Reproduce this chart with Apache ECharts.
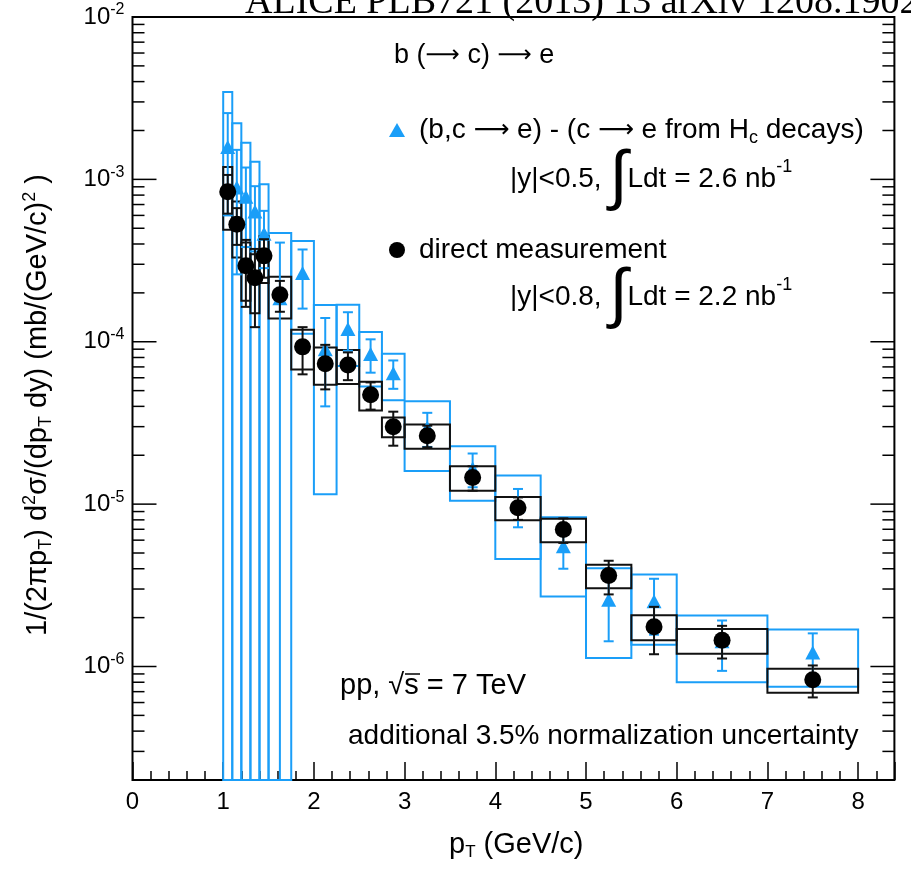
<!DOCTYPE html>
<html><head><meta charset="utf-8">
<script src="https://cdn.jsdelivr.net/npm/echarts@6/dist/echarts.min.js"></script>
<style>html,body{margin:0;padding:0;background:#fff}#c{width:911px;height:870px}</style>
</head><body><div id="c"></div>
<script>
// ---- data ----
const binLow   = [1.0, 1.1, 1.2, 1.3, 1.4, 1.5, 1.75, 2.0, 2.25, 2.5, 2.75, 3.0, 3.5, 4.0, 4.5, 5.0, 5.5, 6.0, 7.0];
const binHigh  = [1.1, 1.2, 1.3, 1.4, 1.5, 1.75, 2.0, 2.25, 2.5, 2.75, 3.0, 3.5, 4.0, 4.5, 5.0, 5.5, 6.0, 7.0, 8.0];
const ptCenter = [1.05, 1.15, 1.25, 1.35, 1.45, 1.625, 1.875, 2.125, 2.375, 2.625, 2.875, 3.25, 3.75, 4.25, 4.75, 5.25, 5.75, 6.5, 7.5];

// direct measurement (black circles)
const directVal  = [8.4e-4, 5.3e-4, 2.94e-4, 2.48e-4, 3.38e-4, 1.95e-4, 9.3e-5, 7.33e-5, 7.2e-5, 4.72e-5, 3.0e-5, 2.64e-5, 1.46e-5, 9.5e-6, 6.97e-6, 3.63e-6, 1.76e-6, 1.45e-6, 8.3e-7];
const directStat = [2.25e-4, 1.35e-4, 1.3e-4, 1.25e-4, 0.9e-4, 0.42e-4, 3.0e-5, 2.24e-5, 1.4e-5, 0.9e-5, 0.71e-5, 0.4e-5, 0.25e-5, 1.5e-6, 1.2e-6, 0.85e-6, 0.57e-6, 0.33e-6, 1.85e-7];
const directSyst = [3.5e-4, 2.0e-4, 1.15e-4, 0.98e-4, 1.08e-4, 0.56e-4, 2.55e-5, 1.9e-5, 1.7e-5, 0.95e-5, 0.42e-5, 0.45e-5, 0.25e-5, 1.55e-6, 1.15e-6, 0.6e-6, 0.31e-6, 0.25e-6, 1.4e-7];

// (b,c -> e) - (c -> e from Hc decays) (blue triangles)
const subVal  = [1.58e-3, 8.9e-4, 7.83e-4, 6.34e-4, 4.62e-4, 1.85e-4, 2.65e-4, 9.0e-5, 1.2e-4, 8.4e-5, 6.4e-5, 2.95e-5, 1.66e-5, 9.8e-6, 5.5e-6, 2.58e-6, 2.52e-6, 1.43e-6, 1.22e-6];
const subStat = [9.8e-4, 6.3e-4, 4.0e-4, 2.74e-4, 1.78e-4, 2.23e-4, 1.05e-4, 5.0e-5, 3.2e-5, 1.95e-5, 1.27e-5, 0.7e-5, 0.39e-5, 2.6e-6, 1.5e-6, 1.15e-6, 0.95e-6, 4.9e-7, 3.8e-7];
const subSyst = [1.87e-3, 1.33e-3, 9.0e-4, 6.5e-4, 4.71e-4, 2.82e-4, 1.53e-4, 7.85e-5, 4.9e-5, 3.1e-5, 2.03e-5, 1.35e-5, 6.1e-6, 5.2e-6, 2.8e-6, 1.45e-6, 1.16e-6, 6.3e-7, 4.7e-7];

const xTickLabels = ['0', '1', '2', '3', '4', '5', '6', '7', '8'];
const yDecadeExp  = [-7, -6, -5, -4, -3, -2];

const nameSub = '(b,c → e) - (c → e from Hc decays)';
const nameDirect = 'direct measurement';

const Y_MIN = 2e-7, Y_MAX = 1e-2, X_MIN = 0, X_MAX = 8.4;
const BLUE = '#1a9ef8', BLACK = '#111';
const FONT = 'Liberation Sans';
const ARROW_FONT = 'DejaVu Sans';
const ARROW = '⟶';

// ---- build ----
const boxRows = (v, e) => v.map((val, i) => [binLow[i], binHigh[i], val, e[i]]);
const errRows = (v, e) => v.map((val, i) => [ptCenter[i], val, e[i]]);
const ptRows  = (v) => v.map((val, i) => [ptCenter[i], val]);

const yTicks = [];
yDecadeExp.forEach(k => {
  for (let m = 1; m <= 9; m++) {
    const v = m * Math.pow(10, k);
    if (v >= Y_MIN * 0.999 && v <= Y_MAX * 1.001) yTicks.push([X_MIN, v, m === 1 ? 1 : 0]);
  }
});

function boxSeries(rows, color, z) {
  return {
    type: 'custom', z, silent: true, data: rows,
    encode: { x: [0, 1], y: 2 },
    renderItem(params, api) {
      const lo = api.value(0), hi = api.value(1), v = api.value(2), e = api.value(3);
      const top = Math.min(v + e, Y_MAX);
      const bot = Math.max(v - e, Y_MIN);
      const p1 = api.coord([lo, top]);
      const p2 = api.coord([hi, bot]);
      return { type: 'rect', shape: { x: p1[0], y: p1[1], width: p2[0] - p1[0], height: p2[1] - p1[1] },
        style: { fill: 'none', stroke: color, lineWidth: 2 } };
    }
  };
}
function errSeries(rows, color, z, cap) {
  return {
    type: 'custom', z, silent: true, data: rows,
    encode: { x: 0, y: 1 },
    renderItem(params, api) {
      const x = api.value(0), v = api.value(1), e = api.value(2);
      const hiV = Math.min(v + e, Y_MAX), loV = v - e;
      const pHi = api.coord([x, hiV]);
      const pLo = api.coord([x, Math.max(loV, Y_MIN)]);
      const children = [
        { type: 'line', shape: { x1: pHi[0], y1: pHi[1], x2: pLo[0], y2: pLo[1] }, style: { stroke: color, lineWidth: 2 } },
        { type: 'line', shape: { x1: pHi[0] - cap, y1: pHi[1], x2: pHi[0] + cap, y2: pHi[1] }, style: { stroke: color, lineWidth: 2 } }
      ];
      if (loV > Y_MIN) children.push({ type: 'line', shape: { x1: pLo[0] - cap, y1: pLo[1], x2: pLo[0] + cap, y2: pLo[1] }, style: { stroke: color, lineWidth: 2 } });
      return { type: 'group', children };
    }
  };
}

const chart = echarts.init(document.getElementById('c'), null, { renderer: 'canvas' });
const baseRich = {
  n: { fontSize: 28, fontFamily: FONT, color: '#000' },
  a: { fontSize: 25, fontFamily: ARROW_FONT, color: '#000' },
  sub: { fontSize: 18, fontFamily: FONT, color: '#000', padding: [16, 0, 0, 0] }
};
const legendText = { fontSize: 28, fontFamily: FONT, color: '#000', padding: [0, 0, 0, 9], rich: baseRich };
const intRich = {
  n: { fontSize: 28, fontFamily: FONT, fill: '#000' },
  i: { fontSize: 66, fontFamily: FONT, fill: '#000' },
  s: { fontSize: 18, fontFamily: FONT, fill: '#000', padding: [0, 0, 24, 0] }
};
const option = {
  animation: false,
  backgroundColor: '#fff',
  grid: { left: 132.5, right: 16.6, top: 17, bottom: 90, show: true, borderColor: '#000', borderWidth: 2, backgroundColor: 'transparent' },
  xAxis: {
    type: 'value', min: X_MIN, max: X_MAX, interval: 1,
    axisLine: { show: false },
    axisTick: { show: true, inside: true, length: 18, lineStyle: { color: '#000', width: 1.5 } },
    minorTick: { show: true, splitNumber: 5, length: 9, lineStyle: { color: '#000', width: 1.5 } },
    splitLine: { show: false },
    axisLabel: { fontSize: 24, fontFamily: FONT, color: '#000', margin: 10,
      formatter: v => (Math.abs(v - Math.round(v)) < 1e-9 && xTickLabels[Math.round(v)] !== undefined) ? xTickLabels[Math.round(v)] : '' }
  },
  yAxis: {
    type: 'log', logBase: 10, min: Y_MIN, max: Y_MAX,
    axisLine: { show: false }, axisTick: { show: false }, splitLine: { show: false }, minorTick: { show: false },
    axisLabel: {
      margin: 8, color: '#000', fontFamily: FONT,
      formatter: v => {
        const l = Math.log10(v), e = Math.round(l);
        if (Math.abs(l - e) > 1e-6) return '';
        return '{b|10}{s|' + e + '}';
      },
      rich: { b: { fontSize: 24, fontFamily: FONT, color: '#000' }, s: { fontSize: 16, fontFamily: FONT, color: '#000', padding: [0, 0, 14, 0] } }
    }
  },
  legend: [
    { data: [nameSub], left: 389, top: 116, itemWidth: 16, itemHeight: 14, itemGap: 0, padding: 0,
      textStyle: legendText, formatter: () => '{n|(b,c }{a|' + ARROW + '}{n| e) - (c }{a|' + ARROW + '}{n| e from H}{sub|c}{n| decays)}' },
    { data: [nameDirect], left: 389, top: 236, itemWidth: 16, itemHeight: 17, itemGap: 0, padding: 0,
      textStyle: legendText, formatter: () => '{n|direct measurement}' }
  ],
  series: [
    boxSeries(boxRows(subVal, subSyst), BLUE, 2),
    boxSeries(boxRows(directVal, directSyst), BLACK, 3),
    errSeries(errRows(subVal, subStat), BLUE, 4, 5),
    { name: nameSub, type: 'scatter', z: 5, data: ptRows(subVal), symbol: 'triangle', symbolSize: [15, 14],
      itemStyle: { color: BLUE, opacity: 1 }, silent: true },
    errSeries(errRows(directVal, directStat), BLACK, 6, 5),
    { name: nameDirect, type: 'scatter', z: 7, data: ptRows(directVal), symbol: 'circle', symbolSize: 17,
      itemStyle: { color: '#000', opacity: 1 }, silent: true },
    { type: 'custom', z: 8, silent: true, data: yTicks, encode: { x: 0, y: 1 },
      renderItem(params, api) {
        const v = api.value(1), major = api.value(2) === 1;
        const len = major ? 24 : 12;
        const pL = api.coord([X_MIN, v]), pR = api.coord([X_MAX, v]);
        return { type: 'group', children: [
          { type: 'line', shape: { x1: pL[0], y1: pL[1], x2: pL[0] + len, y2: pL[1] }, style: { stroke: '#000', lineWidth: 1.5 } },
          { type: 'line', shape: { x1: pR[0] - len, y1: pR[1], x2: pR[0], y2: pR[1] }, style: { stroke: '#000', lineWidth: 1.5 } }
        ] };
      }
    }
  ],
  graphic: [
    { type: 'text', left: 245, top: -16, z: 10, style: { text: 'ALICE PLB721 (2013) 13 arXiv 1208.1902', font: '38px "Liberation Serif"', fill: '#000' } },
    { type: 'text', left: 394, top: 42, z: 10, style: { text: '{n|b (}{a|' + ARROW + '}{n| c) }{a|' + ARROW + '}{n| e}',
        rich: { n: { fontSize: 27, fontFamily: FONT, fill: '#000' }, a: { fontSize: 24, fontFamily: ARROW_FONT, fill: '#000' } } } },
    { type: 'text', left: 510, top: 146, z: 10, style: { text: '{n||y|<0.5, }{i|∫}{n|Ldt = 2.6 nb}{s|-1}', rich: intRich } },
    { type: 'text', left: 510, top: 264, z: 10, style: { text: '{n||y|<0.8, }{i|∫}{n|Ldt = 2.2 nb}{s|-1}', rich: intRich } },
    { type: 'text', left: 340, top: 671, z: 10, style: { text: 'pp, √s = 7 TeV', font: '29px "Liberation Sans"', fill: '#000' } },
    { type: 'line', z: 10, shape: { x1: 405, y1: 674, x2: 420, y2: 674 }, style: { stroke: '#000', lineWidth: 1.5 } },
    { type: 'text', left: 348, top: 722, z: 10, style: { text: 'additional 3.5% normalization uncertainty', font: '28px "Liberation Sans"', fill: '#000' } },
    { type: 'text', left: 449, top: 830, z: 10, style: {
        text: '{n|p}{sub|T}{n| (GeV/c)}',
        rich: { n: { fontSize: 29, fontFamily: FONT, fill: '#000' }, sub: { fontSize: 17, fontFamily: FONT, fill: '#000', padding: [16, 0, 0, 0] } } } },
    { type: 'text', x: 38, y: 405, rotation: Math.PI / 2, z: 10, style: {
        text: '{n|1/(2πp}{sub|T}{n|) d}{sup|2}{n|σ/(dp}{sub|T}{n| dy) (mb/(GeV/c)}{sup|2}{n| )}',
        align: 'center', verticalAlign: 'middle',
        rich: { n: { fontSize: 29, fontFamily: FONT, fill: '#000' }, sub: { fontSize: 18, fontFamily: FONT, fill: '#000', padding: [17, 0, 0, 0] }, sup: { fontSize: 18, fontFamily: FONT, fill: '#000', padding: [0, 0, 15, 0] } } } }
  ]
};
chart.setOption(option);
</script></body></html>
